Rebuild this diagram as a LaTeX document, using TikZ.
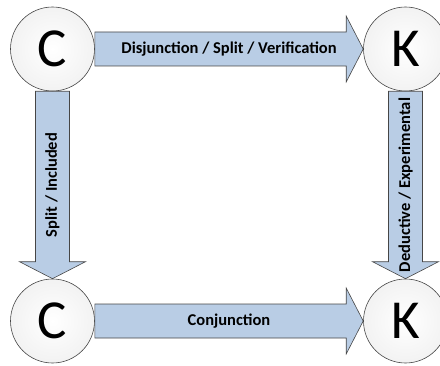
\documentclass[tikz,border=0pt]{standalone}
\usepackage{fontspec}
\setmainfont{Carlito}
\usetikzlibrary{calc}
\definecolor{arrowblue}{RGB}{185,205,229}
\definecolor{edgegray}{RGB}{70,70,70}
\tikzset{letter/.style = {circle, draw = edgegray, line width = 0.6pt, minimum size = 84pt, inner sep = 0, inner color = white, outer color = gray!10, font = \fontsize{55}{55}\selectfont}}
\tikzset{arrowtext/.style = {inner sep = 0, font = \fontsize{16.5}{16.5}\selectfont\bfseries}}
\tikzset{blockarrow/.style = {draw = edgegray, line width = 0.6pt, fill = arrowblue, line join = miter,
    to path = {($(\tikztostart)!17pt!90:(\tikztotarget)$)
      -- ($(\tikztotarget)!17pt!(\tikztostart)!17pt!90:(\tikztotarget)$)
      -- ($(\tikztotarget)!17pt!(\tikztostart)!33pt!90:(\tikztotarget)$)
      -- (\tikztotarget)
      -- ($(\tikztotarget)!17pt!(\tikztostart)!33pt!-90:(\tikztotarget)$)
      -- ($(\tikztotarget)!17pt!(\tikztostart)!17pt!-90:(\tikztotarget)$)
      -- ($(\tikztostart)!17pt!-90:(\tikztotarget)$) -- cycle}}}

\begin{document}
\begin{tikzpicture}[x = 1pt, y = 1pt]
  \useasboundingbox (0, 0) rectangle (440, 365);

  \node [letter] (cTop) at (52.5, 316) {C};
  \node [letter] (kTop) at (405.5, 316) {K};
  \node [letter] (cBot) at (52.5, 44) {C};
  \node [letter] (kBot) at (405.5, 44) {K};

  \draw [blockarrow] (cTop.east) to (kTop.west);
  \draw [blockarrow] (cBot.east) to (kBot.west);
  \draw [blockarrow] (cTop.south) to (cBot.north);
  \draw [blockarrow] (kTop.south) to (kBot.north);

  \node [arrowtext] (dsvText) at ($(cTop.east)!0.5!(kTop.west)$) {Disjunction / Split / Verification};
  \node [arrowtext] (conjText) at ($(cBot.east)!0.5!(kBot.west)$) {Conjunction};
  \node [arrowtext, rotate = 90] (splitText) at ($(cTop.south)!0.5!(cBot.north)$) {Split / Included};
  \node [arrowtext, rotate = 90] (dedText) at ($(kTop.south)!0.5!(kBot.north)$) {Deductive / Experimental};
\end{tikzpicture}
\end{document}
